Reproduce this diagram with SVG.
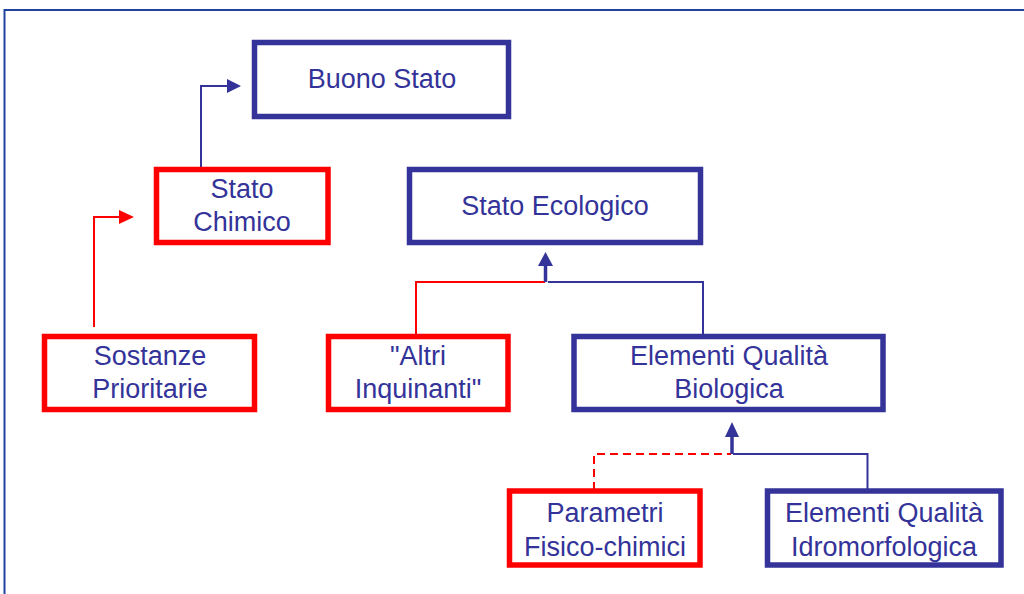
<svg xmlns="http://www.w3.org/2000/svg" width="1024" height="594" viewBox="0 0 1024 594">
<style>
.box{fill:#fff;stroke-width:5.5}
.b{stroke:#333399}
.r{stroke:#ff0000}
.t{font-family:"Liberation Sans",Arial,sans-serif;font-size:27px;fill:#333399;text-anchor:middle}
.ln{fill:none;stroke-width:2}
</style>
<rect width="1024" height="594" fill="#fff"/>
<path d="M4.5,600 V10 H1030" fill="none" stroke="#1f44a0" stroke-width="2"/>
<g id="connectors">
<path class="ln b" d="M201,167 V86 H229"/>
<polygon points="227,79 241,86 227,93" fill="#333399"/>
<path class="ln r" d="M94,327 V217 H121"/>
<polygon points="119,210 134,217 119,224" fill="#ff0000"/>
<path class="ln r" d="M416,334 V282 H545"/>
<path class="ln b" d="M548,282 H703 V334"/>
<line x1="545.5" y1="282" x2="545.5" y2="264" stroke="#333399" stroke-width="3.5"/>
<polygon points="538,266 545.5,252 553,266" fill="#333399"/>
<path class="ln r" d="M594,490 V454 H731" stroke-dasharray="8,5"/>
<path class="ln b" d="M733,454 H867.5 V490"/>
<line x1="732" y1="454" x2="732" y2="435" stroke="#333399" stroke-width="3.5"/>
<polygon points="725,437 732,422 739,437" fill="#333399"/>
</g>
<g id="buono-stato">
<rect class="box b" x="254.5" y="42.5" width="254" height="74"/>
<text class="t" x="382" y="88">Buono Stato</text>
</g>
<g id="stato-chimico">
<rect class="box r" x="156.5" y="169.5" width="171.5" height="73"/>
<text class="t" x="242" y="198">Stato</text>
<text class="t" x="242" y="231">Chimico</text>
</g>
<g id="stato-ecologico">
<rect class="box b" x="409.5" y="169.5" width="291" height="73"/>
<text class="t" x="555" y="215">Stato Ecologico</text>
</g>
<g id="sostanze-prioritarie">
<rect class="box r" x="44.5" y="336.5" width="210" height="73"/>
<text class="t" x="150" y="365">Sostanze</text>
<text class="t" x="150" y="398">Prioritarie</text>
</g>
<g id="altri-inquinanti">
<rect class="box r" x="328.5" y="336.5" width="179.5" height="73"/>
<text class="t" x="418" y="365">"Altri</text>
<text class="t" x="418" y="398">Inquinanti"</text>
</g>
<g id="elementi-biologica">
<rect class="box b" x="574" y="336.5" width="309" height="73"/>
<text class="t" x="729" y="365">Elementi Qualità</text>
<text class="t" x="729" y="398">Biologica</text>
</g>
<g id="parametri">
<rect class="box r" x="509.5" y="491" width="190.5" height="74"/>
<text class="t" x="605" y="522">Parametri</text>
<text class="t" x="605" y="556">Fisico-chimici</text>
</g>
<g id="elementi-idromorfologica">
<rect class="box b" x="767.5" y="491" width="233.5" height="74"/>
<text class="t" x="884" y="522">Elementi Qualità</text>
<text class="t" x="884" y="556">Idromorfologica</text>
</g>
</svg>
